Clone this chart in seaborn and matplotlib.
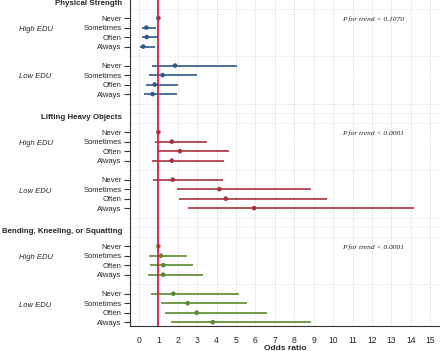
import pandas as pd
import matplotlib.pyplot as plt
import seaborn as sns

sns.set_theme(style="white")
plt.rcParams['font.family'] = ['Liberation Sans', 'DejaVu Sans']

# Datos: odds ratio e IC 95% por exposición, educación y frecuencia
exposures = ['Physical Strength', 'Lifting Heavy Objects', 'Bending, Kneeling, or Squatting']
edu_groups = ['High EDU', 'Low EDU']
freq_levels = ['Never', 'Sometimes', 'Often', 'Always']
p_trend = ['P for trend = 0.1070', 'P for trend < 0.0001', 'P for trend < 0.0001']

strength_or = [1.0, 0.38, 0.40, 0.22, 1.86, 1.22, 0.81, 0.70]
strength_lo = [1.0, 0.15, 0.15, 0.05, 0.69, 0.52, 0.35, 0.26]
strength_hi = [1.0, 0.88, 1.00, 0.82, 5.05, 2.97, 2.03, 1.97]

lifting_or = [1.0, 1.69, 2.11, 1.69, 1.74, 4.14, 4.47, 5.93]
lifting_lo = [1.0, 0.82, 1.00, 0.65, 0.70, 1.94, 2.08, 2.51]
lifting_hi = [1.0, 3.52, 4.64, 4.40, 4.31, 8.87, 9.67, 14.14]

bending_or = [1.0, 1.13, 1.25, 1.25, 1.77, 2.51, 2.97, 3.80]
bending_lo = [1.0, 0.53, 0.57, 0.48, 0.62, 1.13, 1.34, 1.63]
bending_hi = [1.0, 2.49, 2.80, 3.31, 5.15, 5.55, 6.58, 8.87]

colors = ['#2c5b86', '#a3343f', '#5b8a2e']

# Construir la tabla
rows = []
series = [(strength_or, strength_lo, strength_hi),
          (lifting_or, lifting_lo, lifting_hi),
          (bending_or, bending_lo, bending_hi)]
for b, (name, (ors, los, his)) in enumerate(zip(exposures, series)):
    for g, edu in enumerate(edu_groups):
        for i, freq in enumerate(freq_levels):
            k = g * 4 + i
            rows.append({'exposure': name, 'edu': edu, 'freq': freq,
                         'pos': 12 * b + 5 * g + i,
                         'OR': ors[k], 'lo': los[k], 'hi': his[k]})
df = pd.DataFrame(rows)

fig = plt.figure(figsize=(4.4, 3.51), dpi=100)
ax = fig.add_axes([0.2955, 0.0712, 0.7045, 0.9288])

# Líneas de referencia y rejilla
ax.set_xticks(range(16))
ax.set_yticks(range(-1, 33), minor=True)
ax.grid(True, which='major', axis='x', linestyle=':', color='#cfcfcf', linewidth=0.7)
ax.grid(True, which='minor', axis='y', linestyle=':', color='#dcdcdc', linewidth=0.7)
ax.set_axisbelow(True)

for name, col in zip(exposures, colors):
    sub = df[df['exposure'] == name]
    ax.hlines(sub['pos'], sub['lo'], sub['hi'], color=col, linewidth=1.2, zorder=2)

sns.scatterplot(data=df, x='OR', y='pos', hue='exposure', palette=colors,
                s=11, edgecolor='none', legend=False, zorder=3, ax=ax)

ax.axvline(1, color='#d81e4a', linewidth=1.3, zorder=4)

ax.set_xlim(-0.46, 15.5)
ax.set_ylim(32.4, -1.9)
ax.set_yticks(df['pos'])
ax.set_yticklabels(df['freq'], fontsize=5.5)
ax.tick_params(axis='x', labelsize=6.2, length=3, width=0.8, pad=4, color='#333333')
ax.tick_params(axis='y', which='major', length=4, width=0.8, pad=2, color='#333333', left=True)
ax.tick_params(axis='y', which='minor', length=0)
ax.set_xlabel('Odds ratio', fontsize=6, fontweight='bold', labelpad=0.5)
ax.set_ylabel('')

sns.despine(ax=ax)
for side in ['left', 'bottom']:
    ax.spines[side].set_color('#333333')
    ax.spines[side].set_linewidth(0.8)

# Encabezados, grupos y p de tendencia
for b, name in enumerate(exposures):
    ax.text(-0.026, 12 * b - 1.5, name, transform=ax.get_yaxis_transform(),
            ha='right', va='center', fontsize=5.7, fontweight='bold')
    for g, edu in enumerate(edu_groups):
        ax.text(-0.358, 12 * b + 5 * g + 1.2, edu, transform=ax.get_yaxis_transform(),
                ha='left', va='center', fontsize=5.5, style='italic')
    ax.text(10.45, 12 * b + 0.1, p_trend[b], ha='left', va='center', fontsize=5.4,
            style='italic', family=['Liberation Serif', 'DejaVu Serif'])

fig.savefig('out.png', dpi=100)
